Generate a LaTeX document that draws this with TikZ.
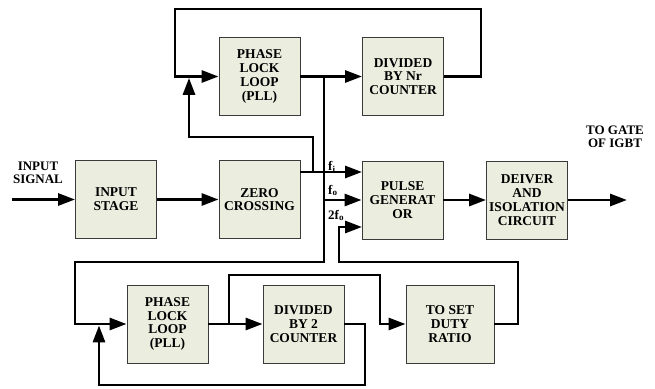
\documentclass[tikz,border=0pt]{standalone}
\usepackage{fontspec}
\setmainfont{Liberation Serif}
\definecolor{boxfill}{HTML}{EBEEDF}
\definecolor{boxline}{HTML}{3A3A3A}
\usepackage{tikz}
\usetikzlibrary{arrows.meta}

\begin{document}
\begin{tikzpicture}[
  x=1pt, y=-1pt,
  blk/.style={draw=boxline, fill=boxfill, line width=0.9pt,
              minimum width=81pt, minimum height=78pt, align=center,
              inner sep=0pt, font=\fontsize{13.5}{13.8}\selectfont\bfseries},
  wire/.style={line width=2.9pt},
  arr/.style={wire, -{Triangle[length=17pt,width=12pt]}},
  sig/.style={font=\fontsize{13}{12.5}\selectfont\bfseries, inner sep=0pt, align=center},
]
\useasboundingbox (0,0) rectangle (655,388);

% blocks
\node[blk] (pllA)  at (259.5,76.5) {PHASE\\LOCK\\LOOP\\(PLL)};
\node[blk] (divN)  at (403,76.5)   {DIVIDED\\BY Nr\\COUNTER};
\node[blk] (inst)  at (116,199.5)  {INPUT\\STAGE};
\node[blk] (zero)  at (259.5,199.5){ZERO\\CROSSING};
\node[blk] (pulse) at (402.5,200)  {PULSE\\GENERAT\\OR};
\node[blk] (drv)   at (527,200)    {DEIVER\\AND\\ISOLATION\\CIRCUIT};
\node[blk] (pllB)  at (167.5,324)  {PHASE\\LOCK\\LOOP\\(PLL)};
\node[blk] (div2)  at (303.5,324)  {DIVIDED\\BY 2\\COUNTER};
\node[blk, minimum width=88pt] (duty) at (450,324) {TO SET\\DUTY\\RATIO};

% labels
\node[sig] (lin)   at (38,173)  {INPUT\\SIGNAL};
\node[sig] (lgate) at (615,137) {TO GATE\\OF IGBT};
\node[sig, anchor=base west] (lfi) at (328,170) {f\textsubscript{i}};
\node[sig, anchor=base west] (lfo) at (328,194) {f\textsubscript{o}};
\node[sig, anchor=base west] (l2f) at (328,219) {2f\textsubscript{o}};

% free ends and bends
\coordinate (insig) at (12,199.5);
\coordinate (gate)  at (627,200);
\coordinate (topR)  at (481,9);
\coordinate (topL)  at (175,9);
\coordinate (jA)    at (324,76.5);
\coordinate (lowL)  at (75,262);
\coordinate (pin1)  at (362,172);
\coordinate (jZ)    at (313,172);
\coordinate (fbA)   at (189,137);
\coordinate (pin3)  at (362,227);
\coordinate (dR)    at (518,262);
\coordinate (dL)    at (339,262);
\coordinate (jB)    at (229,324);
\coordinate (upB)   at (380,275);
\coordinate (botR)  at (365,385);
\coordinate (botL)  at (99,385);

% main path
\draw[arr] (insig) -- (inst.west);
\draw[arr] (inst.east) -- (zero.west);
\draw[arr] (zero.east |- pin1) -- (pin1);
\draw[arr] (pulse.east) -- (drv.west);
\draw[arr] (drv.east) -- (gate);

% upper pll loop
\draw[arr] (pllA.east) -- (divN.west);
\draw[arr] (divN.east) -| (topR) -- (topL) |- (pllA.west);
\draw[arr, shorten >=1.4pt] (jZ) |- (fbA) -- (fbA |- pllA.west);
\draw[arr] (jA |- pulse.west) -- (pulse.west);
\draw[arr] (jA) |- (lowL) |- (pllB.west);

% lower pll loop
\draw[arr] (pllB.east) -- (div2.west);
\draw[arr, shorten >=1.4pt] (div2.east) -| (botR) -- (botL) -- (botL |- pllB.west);
\draw[arr] (jB) |- (upB) |- (duty.west);
\draw[arr] (duty.east) -| (dR) -- (dL) |- (pin3);
\end{tikzpicture}
\end{document}
